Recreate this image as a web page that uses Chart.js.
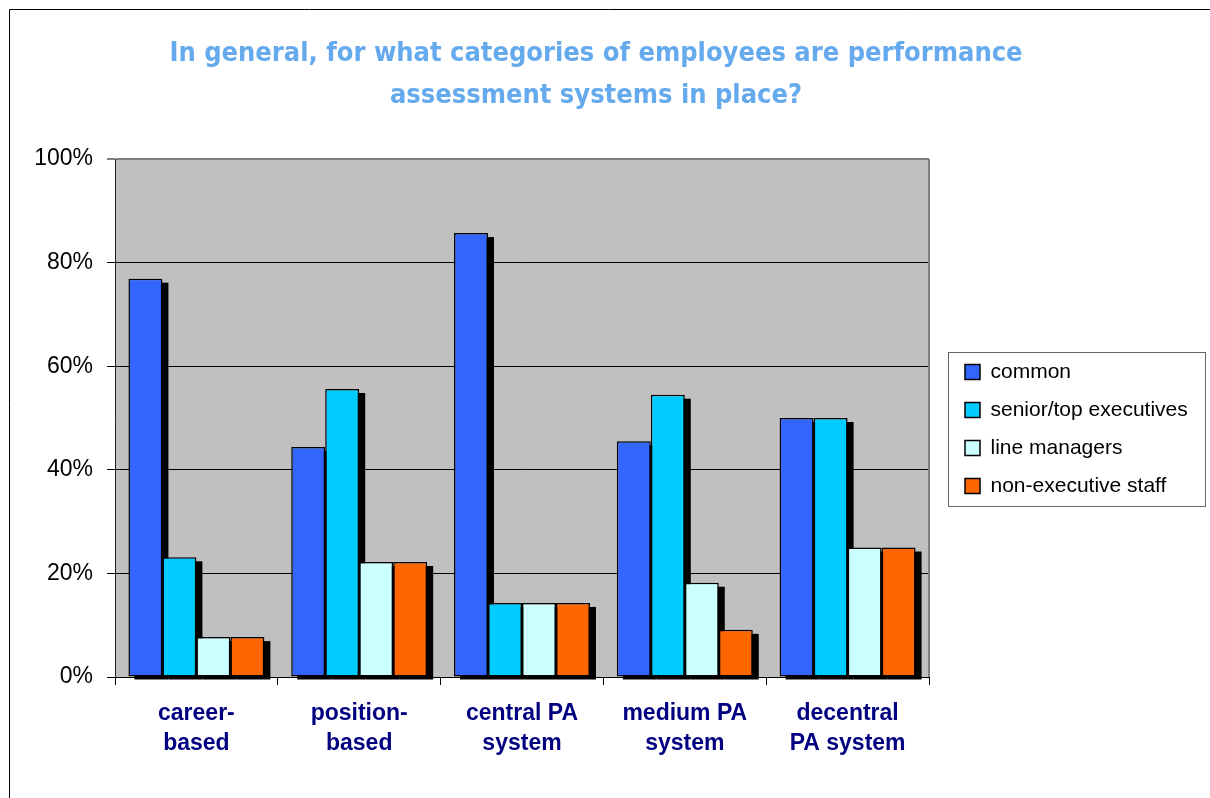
<!DOCTYPE html>
<html>
<head>
<meta charset="utf-8">
<script src="https://cdn.jsdelivr.net/npm/chart.js@4/dist/chart.umd.min.js"></script>
<style>
  body { margin: 0; background: #fff; }
  canvas { display: block; }
</style>
</head>
<body>
<canvas id="paChart" width="1210" height="798"></canvas>
<script>
const categories = [
    ["career-", "based"],
    ["position-", "based"],
    ["central PA", "system"],
    ["medium PA", "system"],
    ["decentral", "PA system"]
];
const seriesNames = ["common", "senior/top executives", "line managers", "non-executive staff"];
const common = [76.9, 44.4, 85.7, 45.5, 50];
const seniorTop = [23.1, 55.6, 14.3, 54.5, 50];
const lineManagers = [7.7, 22.2, 14.3, 18.2, 25];
const nonExecutive = [7.7, 22.2, 14.3, 9.1, 25];
const yTickValues = [0, 20, 40, 60, 80, 100];
const titleLines = ["In general, for what categories of employees are performance", "assessment systems in place?"];

const colors = ["#3366FF", "#00CCFF", "#CCFFFF", "#FF6600"];
const sans = '"Liberation Sans", Arial, sans-serif';

// gray plot area, frame, bar shadows and legend box
const plotDecor = {
    id: "plotDecor",
    beforeDraw(chart) {
        const {ctx, chartArea: a, width, height} = chart;
        ctx.save();
        ctx.fillStyle = "#fff";
        ctx.fillRect(0, 0, width, height);
        ctx.fillStyle = "#C0C0C0";
        ctx.fillRect(a.left, a.top, a.right - a.left, a.bottom - a.top);
        ctx.strokeStyle = "#000";
        ctx.lineWidth = 1;
        ctx.beginPath();
        ctx.moveTo(9.5, height);
        ctx.lineTo(9.5, 9.5);
        ctx.lineTo(width, 9.5);
        ctx.stroke();
        ctx.restore();
    },
    beforeDatasetsDraw(chart) {
        const {ctx, chartArea: a} = chart;
        ctx.save();
        ctx.strokeStyle = "#808080";
        ctx.lineWidth = 2;
        ctx.beginPath();
        ctx.moveTo(a.right, a.top);
        ctx.lineTo(a.right, a.bottom);
        ctx.stroke();
        ctx.fillStyle = "#000";
        chart.data.datasets.forEach((ds, i) => {
            chart.getDatasetMeta(i).data.forEach(bar => {
                const {x, y, base, width} = bar.getProps(["x", "y", "base", "width"], true);
                ctx.fillRect(x - width / 2 + 6, y + 4, width, base - y - 1);
            });
        });
        ctx.restore();
    },
    afterDraw(chart) {
        const lg = chart.legend;
        const hb = lg.legendHitBoxes;
        if (!hb || !hb.length) return;
        const c0 = hb[0].top + hb[0].height / 2;
        const cN = hb[hb.length - 1].top + hb[hb.length - 1].height / 2;
        const ctx = chart.ctx;
        ctx.save();
        ctx.strokeStyle = "#666";
        ctx.lineWidth = 1;
        ctx.strokeRect(Math.round(lg.left) + 0.5, Math.round(c0 - 20) + 0.5, 257, Math.round(cN - c0 + 40));
        ctx.restore();
    }
};

const seriesData = [common, seniorTop, lineManagers, nonExecutive];

new Chart(document.getElementById("paChart"), {
    type: "bar",
    data: {
        labels: categories,
        datasets: seriesNames.map((name, i) => ({
            label: name,
            data: seriesData[i],
            backgroundColor: colors[i],
            borderColor: "#000",
            borderWidth: 1.5,
            borderSkipped: false,
            categoryPercentage: 0.835,
            barPercentage: 1
        }))
    },
    options: {
        responsive: false,
        devicePixelRatio: 1,
        animation: false,
        layout: { padding: { left: 0, right: 18, top: 0, bottom: 0 } },
        scales: {
            x: {
                grid: {
                    offset: true,
                    drawOnChartArea: false,
                    drawTicks: true,
                    tickLength: 8,
                    color: "#000"
                },
                border: { color: "#000", width: 1 },
                ticks: {
                    color: "#000080",
                    padding: 14,
                    maxRotation: 0,
                    font: { family: sans, size: 23, weight: "bold", lineHeight: 1.3 }
                },
                afterFit: s => { s.height = 121; }
            },
            y: {
                min: 0,
                max: 100,
                afterBuildTicks: s => { s.ticks = yTickValues.map(v => ({value: v})); },
                grid: {
                    color: c => c.tick && c.tick.value === 100 ? "#808080" : "#000",
                    lineWidth: c => c.tick && c.tick.value === 100 ? 2 : 1,
                    tickLength: 8
                },
                border: { color: "#222", width: 1 },
                ticks: {
                    color: "#000",
                    padding: 14,
                    font: { family: sans, size: 23 },
                    callback: v => v + "%"
                },
                afterFit: s => { s.width = 115; }
            },
            yRight: {
                type: "linear",
                position: "right",
                display: true,
                grid: { display: false },
                border: { display: false },
                ticks: { display: false },
                afterFit: s => { s.width = 19; }
            }
        },
        plugins: {
            title: {
                display: true,
                text: titleLines,
                color: "#66AAEE",
                font: { family: '"DejaVu Sans Condensed", "DejaVu Sans", sans-serif', size: 27, weight: "bold", lineHeight: "42px" },
                padding: { top: 33, bottom: 42 }
            },
            legend: {
                position: "right",
                align: "center",
                fullSize: false,
                maxWidth: 244,
                title: { display: true, text: "", font: { size: 10, lineHeight: 1 }, padding: 6 },
                labels: {
                    boxWidth: 15,
                    boxHeight: 15,
                    padding: 17,
                    color: "#000",
                    font: { family: sans, size: 21 }
                }
            },
            tooltip: { enabled: false }
        }
    },
    plugins: [plotDecor]
});
</script>
</body>
</html>
